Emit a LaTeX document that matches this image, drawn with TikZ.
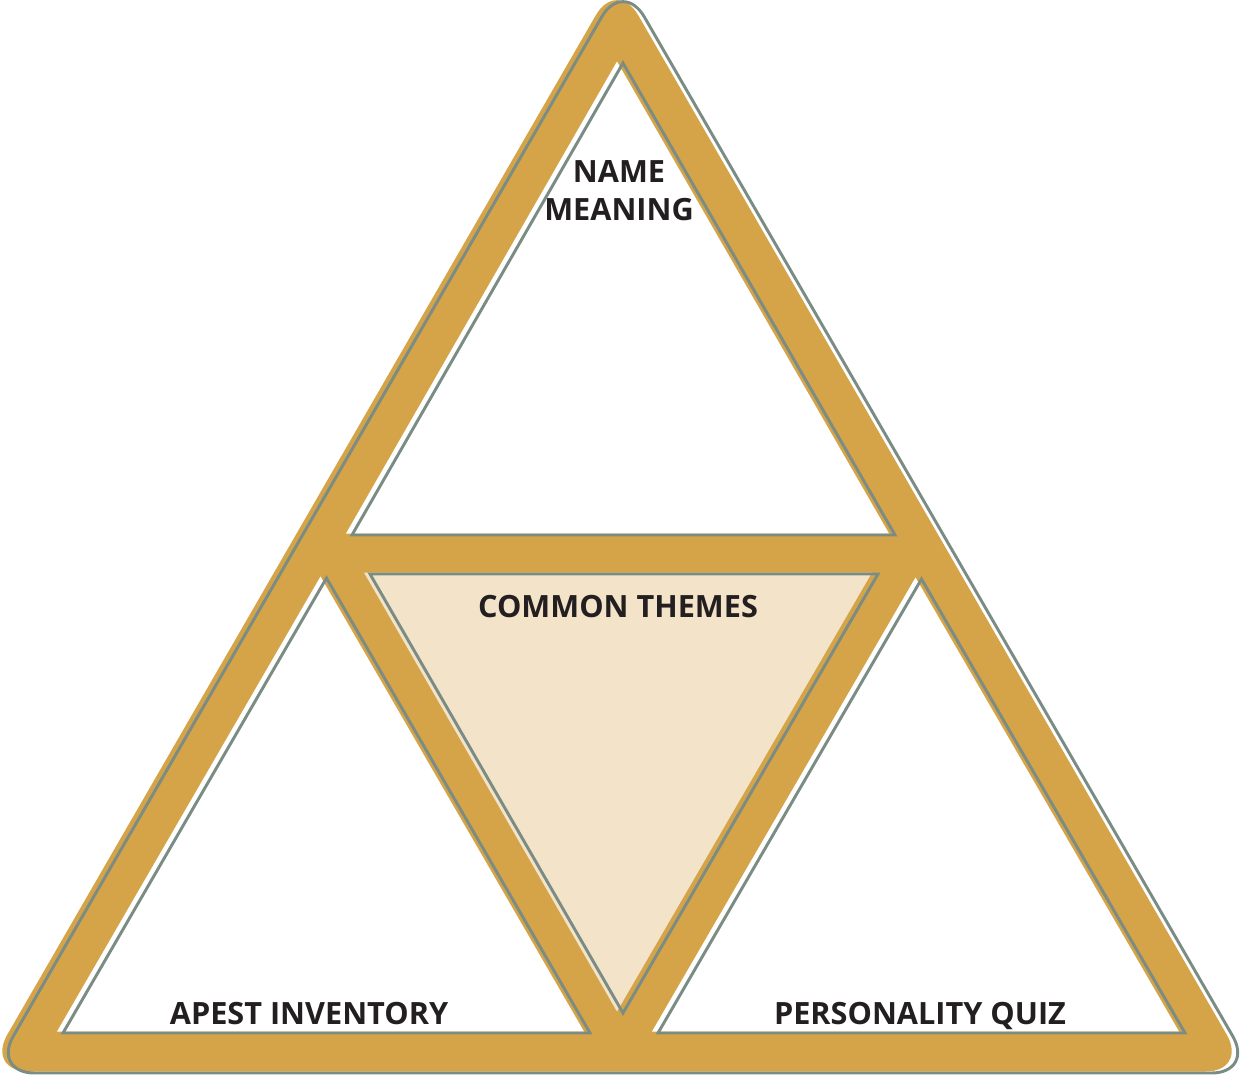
\documentclass[tikz,border=0pt]{standalone}
\usepackage{fontspec}
\setmainfont{Open Sans}
\definecolor{gold}{RGB}{214,164,72}
\definecolor{edgegray}{RGB}{122,140,132}
\definecolor{beige}{RGB}{243,227,201}
\definecolor{ink}{RGB}{35,31,32}
\begin{document}
\begin{tikzpicture}[x=0.75pt,y=-0.75pt,
  outline/.style={draw=edgegray,line width=2.2pt,line join=miter},
  label/.style={font=\bfseries\fontsize{23}{28.5}\selectfont,text=ink,align=center,inner sep=0pt}]
\useasboundingbox (0,0) rectangle (1241,1076);
% gold body (slightly offset)
\begin{scope}[shift={(-6,-1.5)}]
  \fill[gold,rounded corners=32pt] (623,-20) -- (1254,1073) -- (-8,1073) -- cycle;
  \fill[white] (623,63) -- (895,535) -- (352,535) -- cycle;
  \fill[white] (326.5,578) -- (590,1033) -- (63,1033) -- cycle;
  \fill[white] (921.5,579) -- (1185,1033) -- (658,1033) -- cycle;
  \fill[beige] (370,574) -- (878,574) -- (623,1013) -- cycle;
\end{scope}
% outlines
\draw[outline,rounded corners=32pt] (623,-20) -- (1254,1073) -- (-8,1073) -- cycle;
\draw[outline] (623,63) -- (895,535) -- (352,535) -- cycle;
\draw[outline] (326.5,578) -- (590,1033) -- (63,1033) -- cycle;
\draw[outline] (921.5,579) -- (1185,1033) -- (658,1033) -- cycle;
\draw[outline] (370,574) -- (878,574) -- (623,1013) -- cycle;
% labels
\node[label] (name) at (619,191) {NAME\\MEANING};
\node[label,anchor=base] (common) at (618,617) {COMMON THEMES};
\node[label,anchor=base] (apest) at (309,1024) {APEST INVENTORY};
\node[label,anchor=base] (quiz) at (920,1024) {PERSONALITY QUIZ};
\end{tikzpicture}
\end{document}
